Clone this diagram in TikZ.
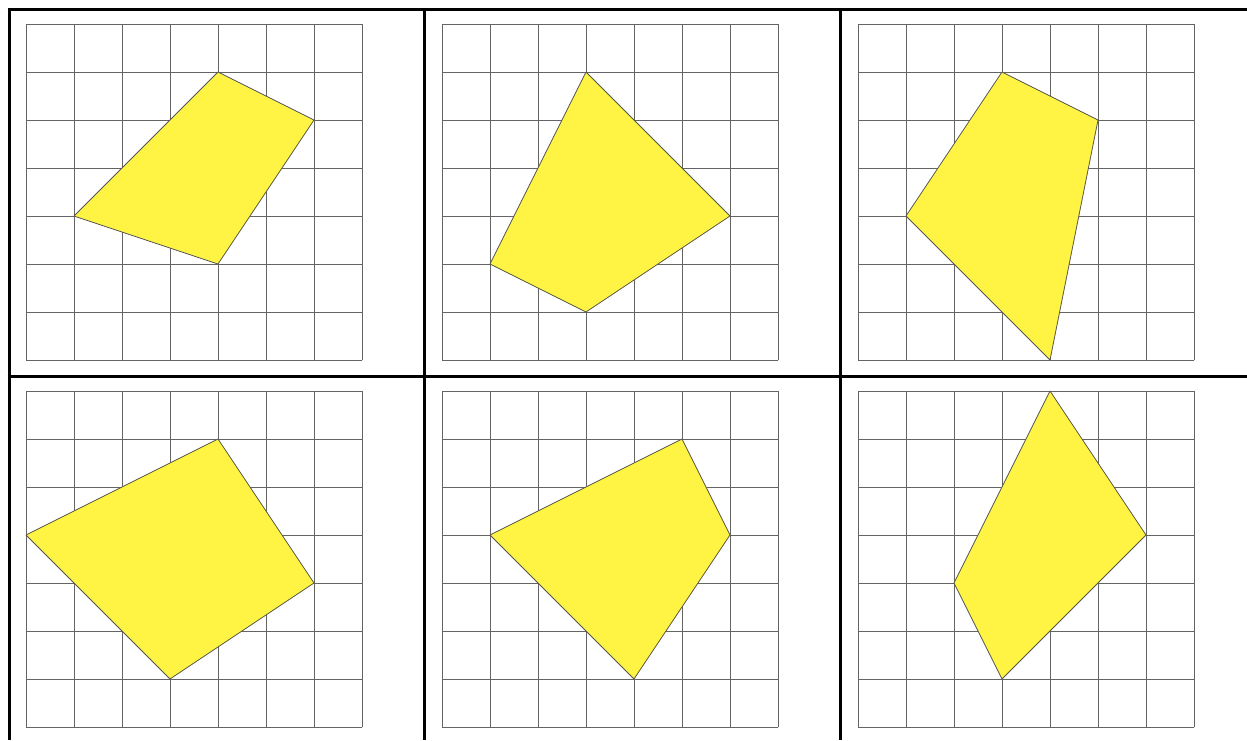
\documentclass[tikz,border=0pt]{standalone}
\definecolor{shapeyellow}{RGB}{255,244,67}
\definecolor{edgegray}{RGB}{85,85,75}
\definecolor{gridgray}{RGB}{100,100,100}
\begin{document}
\begin{tikzpicture}[x=1pt,y=-1pt,
  gridline/.style={draw=gridgray,line width=0.9pt,line cap=rect},
  shapefill/.style={fill=shapeyellow,draw=edgegray,line width=0.8pt,line join=round},
  rulestyle/.style={line width=3pt,black}]
\useasboundingbox (0,0) rectangle (1247,740);
\fill[white] (0,0) rectangle (1247,740);
% cells: offset x, offset y, polygon
\foreach \ox/\oy/\poly in {
  26/24/{(4,1) -- (6,2) -- (4,5) -- (1,4)},
  442/24/{(3,1) -- (6,4) -- (3,6) -- (1,5)},
  858/24/{(3,1) -- (5,2) -- (4,7) -- (1,4)},
  26/391/{(4,1) -- (6,4) -- (3,6) -- (0,3)},
  442/391/{(5,1) -- (6,3) -- (4,6) -- (1,3)},
  858/391/{(4,0) -- (6,3) -- (3,6) -- (2,4)}}{
  \begin{scope}[shift={(\ox,\oy)}]
    \begin{scope}[x=48pt,y=-48pt]
      \foreach \i in {0,...,7}{
        \draw[gridline] (\i,0) -- (\i,7);
        \draw[gridline] (0,\i) -- (7,\i);
      }
      \draw[shapefill] \poly -- cycle;
    \end{scope}
  \end{scope}
}
% table rules
\draw[rulestyle] (9,8) -- (9,740);
\draw[rulestyle] (424.5,8) -- (424.5,740);
\draw[rulestyle] (840.5,8) -- (840.5,740);
\draw[rulestyle] (7.5,9.5) -- (1247,9.5);
\draw[rulestyle] (7.5,376.5) -- (1247,376.5);
\end{tikzpicture}
\end{document}
